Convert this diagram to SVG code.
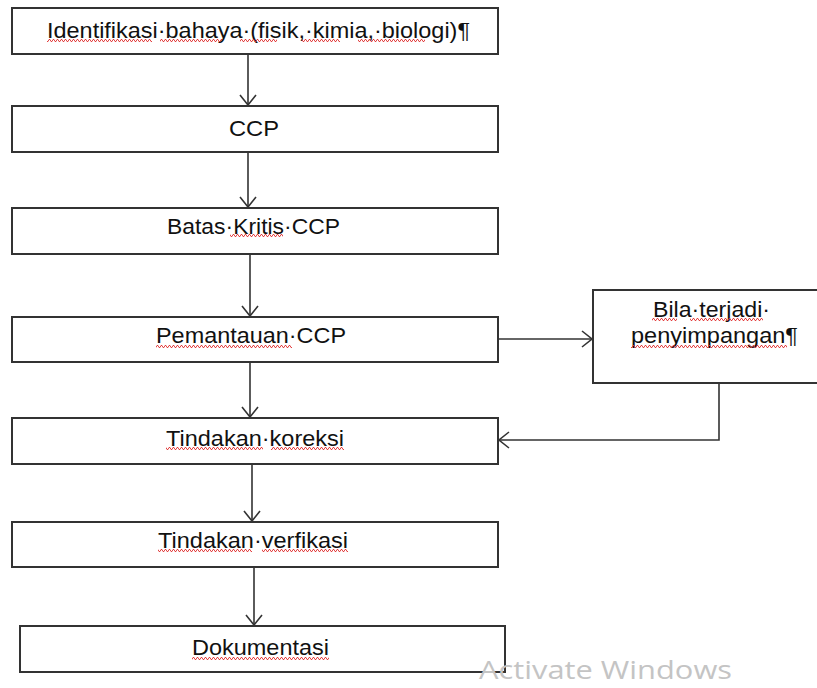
<svg xmlns="http://www.w3.org/2000/svg" width="817" height="688" viewBox="0 0 817 688">
<defs>
<style>
.box{fill:#fff;stroke:#333;stroke-width:2}
.t{font-family:"Liberation Sans",Arial,sans-serif;font-size:21.5px;fill:#111}
.c{fill:none;stroke:#333;stroke-width:1.6}
.sq{fill:url(#squig)}
.wm{font-family:"Open Sans","Liberation Sans",sans-serif;font-size:26px;fill:#c4c4c4}
</style>
<pattern id="squig" patternUnits="userSpaceOnUse" x="0" y="0" width="4" height="3">
<path d="M0 2.5 L1 0.5 L2 0.5 L3 2.5 L4 2.5" fill="none" stroke="#e03030" stroke-width="0.9"/>
</pattern>
<marker id="arr" viewBox="0 0 12 18" refX="11" refY="9" markerWidth="12" markerHeight="18" markerUnits="userSpaceOnUse" orient="auto">
<path d="M1 1 L11 9 L1 17" fill="none" stroke="#333" stroke-width="1.6"/>
</marker>
</defs>
<rect width="817" height="688" fill="#fff"/>
<g id="connectors">
<line class="c" x1="248" y1="54" x2="248" y2="105" marker-end="url(#arr)"/>
<line class="c" x1="248" y1="152" x2="248" y2="207" marker-end="url(#arr)"/>
<line class="c" x1="250" y1="254" x2="250" y2="316" marker-end="url(#arr)"/>
<line class="c" x1="250" y1="362" x2="250" y2="417" marker-end="url(#arr)"/>
<line class="c" x1="252" y1="464" x2="252" y2="521" marker-end="url(#arr)"/>
<line class="c" x1="254" y1="567" x2="254" y2="625" marker-end="url(#arr)"/>
<line class="c" x1="498" y1="339" x2="592" y2="339" marker-end="url(#arr)"/>
<polyline class="c" points="719,383 719,440 499,440" marker-end="url(#arr)"/>
</g>
<g id="n1">
<rect class="box" x="12" y="8" width="486" height="46"/>
<text class="t" x="47" y="38" textLength="423" lengthAdjust="spacingAndGlyphs">Identifikasi·bahaya·(fisik,·kimia,·biologi)¶</text>
<rect class="sq" x="47" y="39" width="105" height="3"/>
<rect class="sq" x="160" y="39" width="62" height="3"/>
<rect class="sq" x="240" y="39" width="37" height="3"/>
<rect class="sq" x="302" y="39" width="38" height="3"/>
<rect class="sq" x="358" y="39" width="67" height="3"/>
</g>
<g id="n2">
<rect class="box" x="12" y="106" width="486" height="46"/>
<text class="t" x="254" y="136" text-anchor="middle" textLength="50" lengthAdjust="spacingAndGlyphs">CCP</text>
</g>
<g id="n3">
<rect class="box" x="12" y="208" width="486" height="46"/>
<text class="t" x="167" y="234" textLength="173" lengthAdjust="spacingAndGlyphs">Batas·Kritis·CCP</text>
<rect class="sq" x="230" y="234" width="53" height="3"/>
</g>
<g id="n4">
<rect class="box" x="12" y="317" width="486" height="45"/>
<text class="t" x="156" y="343" textLength="190" lengthAdjust="spacingAndGlyphs">Pemantauan·CCP</text>
<rect class="sq" x="156" y="345" width="136" height="3"/>
</g>
<g id="n5">
<rect class="box" x="12" y="418" width="486" height="46"/>
<text class="t" x="166" y="446" textLength="178" lengthAdjust="spacingAndGlyphs">Tindakan·koreksi</text>
<rect class="sq" x="166" y="447" width="97" height="3"/>
<rect class="sq" x="271" y="447" width="73" height="3"/>
</g>
<g id="n6">
<rect class="box" x="12" y="522" width="486" height="45"/>
<text class="t" x="158" y="548" textLength="190" lengthAdjust="spacingAndGlyphs">Tindakan·verfikasi</text>
<rect class="sq" x="158" y="549" width="94" height="3"/>
<rect class="sq" x="262" y="549" width="86" height="3"/>
</g>
<g id="n7">
<rect class="box" x="20" y="626" width="485" height="46"/>
<text class="t" x="192" y="655" textLength="137" lengthAdjust="spacingAndGlyphs">Dokumentasi</text>
<rect class="sq" x="192" y="657" width="137" height="3"/>
</g>
<g id="n8">
<rect class="box" x="593" y="290" width="240" height="93"/>
<text class="t" x="653" y="317" textLength="117" lengthAdjust="spacingAndGlyphs">Bila·terjadi·</text>
<text class="t" x="631" y="343" textLength="167" lengthAdjust="spacingAndGlyphs">penyimpangan¶</text>
<rect class="sq" x="652" y="318" width="25" height="3"/>
<rect class="sq" x="690" y="318" width="73" height="3"/>
<rect class="sq" x="631" y="345" width="156" height="3"/>
</g>
<text class="wm" x="479" y="679" textLength="253" lengthAdjust="spacingAndGlyphs">Activate Windows</text>
</svg>
